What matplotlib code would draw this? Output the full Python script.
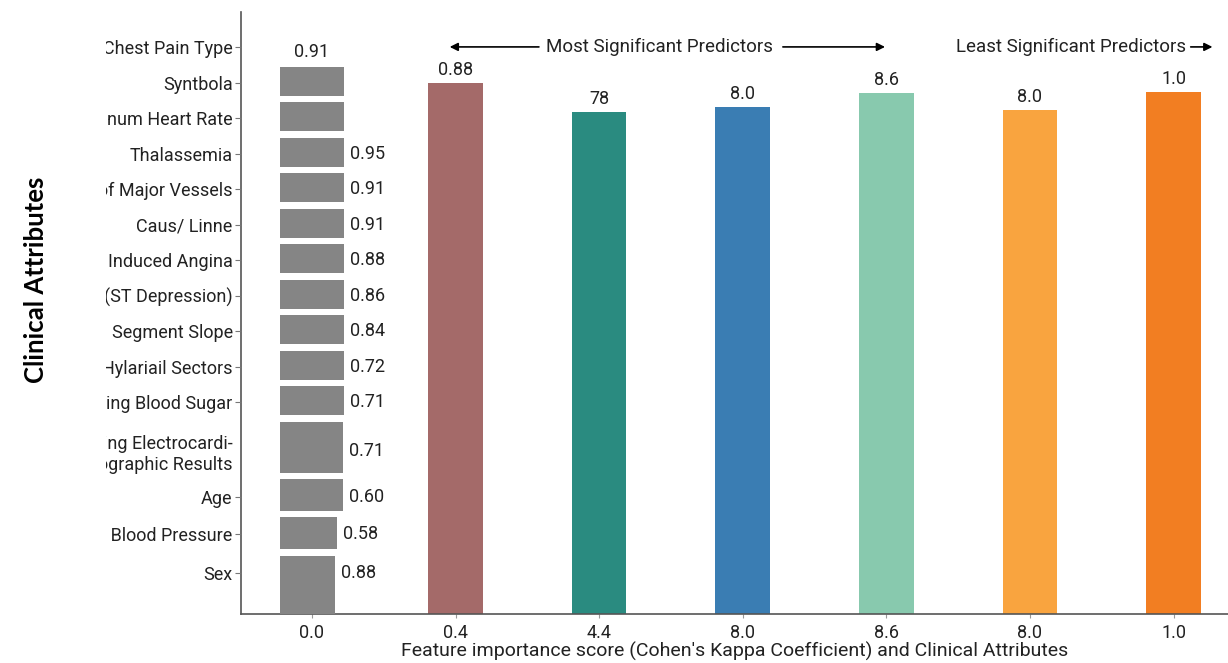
import matplotlib
matplotlib.use("Agg")
import matplotlib.pyplot as plt
import matplotlib.transforms as mtransforms

plt.rcParams['font.family'] = ['Roboto', 'DejaVu Sans']

## data

# x categories (tick labels under each column)
xtick_labels = ["0.0", "0.4", "4.4", "8.0", "8.6", "8.0", "1.0"]

# vertical coloured bars (columns 1..6)
bar_heights = [0.882, 0.834, 0.842, 0.866, 0.837, 0.867]
bar_labels = ["0.88", "78", "8.0", "8.6", "8.0", "1.0"]
bar_colors = ["#A46A69", "#2A8B80", "#3A7DB3", "#88C9AE", "#F9A43F", "#F27E22"]

# stacked gray bars in column 0, one per clinical attribute
attributes = ["Chest Pain Type", "Syntbola", "num Heart Rate", "Thalassemia",
              "of Major Vessels", "Caus/ Linne", "Induced Angina",
              "(ST Depression)", "Segment Slope", "Hylariail Sectors",
              "ing Blood Sugar", "ing Electrocardi-\nographic Results",
              "Age", "g Blood Pressure", "Sex"]
attr_lengths = [0.0, 0.446, 0.446, 0.446, 0.446, 0.446, 0.446, 0.446,
                0.446, 0.446, 0.446, 0.437, 0.437, 0.395, 0.383]
attr_labels = ["0.91", "", "", "0.95", "0.91", "0.91", "0.88", "0.86",
               "0.84", "0.72", "0.71", "0.71", "0.60", "0.58", "0.88"]

## layout (row positions in row units, top row = 0)
row_pos = [0, 1, 2, 3, 4, 5, 6, 7, 8, 9, 10, 11.38, 12.68, 13.72, 14.82]
bar_center = [0, 0.96, 1.96, 2.96, 3.96, 4.96, 5.96, 6.96, 7.96, 8.96, 9.96,
              11.28, 12.62, 13.69, 15.3]
bar_height = [0, 0.82, 0.82, 0.82, 0.82, 0.82, 0.82, 0.82, 0.82, 0.82, 0.82,
              1.44, 0.9, 0.9, 1.9]
gray = "#858585"
text_col = "#222222"
fs = 13

W, H = 1228, 663
fig = plt.figure(figsize=(W / 100, H / 100), dpi=100)
ax = fig.add_axes([241 / W, (H - 614) / H, 1 - 241 / W, (614 - 12) / H])

xs = list(range(len(xtick_labels)))
bars = ax.bar(xs[1:], bar_heights, width=0.38, color=bar_colors)
for b, lab in zip(bars, bar_labels):
    ax.annotate(lab, (b.get_x() + b.get_width() / 2, b.get_height()),
                xytext=(0, 3), textcoords="offset points", ha="center",
                va="bottom", fontsize=fs, color=text_col)

ax.set_xlim(-0.494, 6.379)
ax.set_ylim(0, 1)
ax.set_xticks(xs)
ax.set_xticklabels(xtick_labels, fontsize=fs, color=text_col)
ax.tick_params(axis='x', length=3, color="#999999", pad=4)
ax.set_yticks([])
ax.set_xlabel("Feature importance score (Cohen's Kappa Coefficient) and Clinical Attributes",
              fontsize=14, color=text_col, labelpad=0)
for s in ["top", "right"]:
    ax.spines[s].set_visible(False)
for s in ["left", "bottom"]:
    ax.spines[s].set_color("#555555")
    ax.spines[s].set_linewidth(1.2)

# gray attribute bars on a twin axis that shares x
ax2 = ax.twinx()
ax2.set_ylim(15.97, -0.986)
ax2.barh(bar_center[1:], attr_lengths[1:], left=-0.223, height=bar_height[1:],
         color=gray)
for i, lab in enumerate(attr_labels):
    if lab == "":
        continue
    if attr_lengths[i] == 0:
        ax2.text(0, row_pos[i] + 0.14, lab, ha="center", va="center",
                 fontsize=fs, color=text_col)
    else:
        ax2.text(-0.223 + attr_lengths[i] + 0.042, row_pos[i], lab,
                 ha="left", va="center", fontsize=fs, color=text_col)

ax2.yaxis.tick_left()
ax2.set_yticks(row_pos)
ax2.set_yticklabels(attributes, fontsize=fs, color=text_col)
ax2.tick_params(axis='y', length=4, color="#777777", pad=2)
for s in ax2.spines.values():
    s.set_visible(False)

# the labels in the reference are cut off at the left
clip = mtransforms.Bbox.from_extents(106 / W, 0, 1, 1)
clipbox = mtransforms.TransformedBbox(clip, fig.transFigure)
for t in ax2.get_yticklabels():
    t.set_clip_box(clipbox)
    t.set_clip_on(True)
for tl, lab in zip(ax2.yaxis.get_ticklines(), [a for a in attributes for _ in (0, 1)]):
    if "\n" in lab:
        tl.set_visible(False)

# annotations at top
trans = mtransforms.blended_transform_factory(ax.transData, ax.transAxes)
ya = 0.942
ax.text(2.42, ya, "Most Significant Predictors", transform=trans, ha="center",
        va="center", fontsize=13.5, color=text_col)
ax.annotate("", xy=(0.94, ya), xytext=(1.6, ya), xycoords=trans,
            textcoords=trans, arrowprops=dict(arrowstyle="-|>", color="black",
                                              lw=1.2, mutation_scale=12))
ax.annotate("", xy=(4.01, ya), xytext=(3.26, ya), xycoords=trans,
            textcoords=trans, arrowprops=dict(arrowstyle="-|>", color="black",
                                              lw=1.2, mutation_scale=12))
ax.text(5.285, ya, "Least Significant Predictors", transform=trans,
        ha="center", va="center", fontsize=13.5, color=text_col)
ax.annotate("", xy=(6.29, ya), xytext=(6.1, ya), xycoords=trans,
            textcoords=trans, arrowprops=dict(arrowstyle="-|>", color="black",
                                              lw=1.2, mutation_scale=12))

fig.text(36 / W, (H - 280) / H, "Clinical Attributes", rotation=90,
         ha="center", va="center", fontsize=18.5, fontweight="bold",
         family=["Lato", "DejaVu Sans"], color="black")

fig.savefig("out.png", dpi=100)
